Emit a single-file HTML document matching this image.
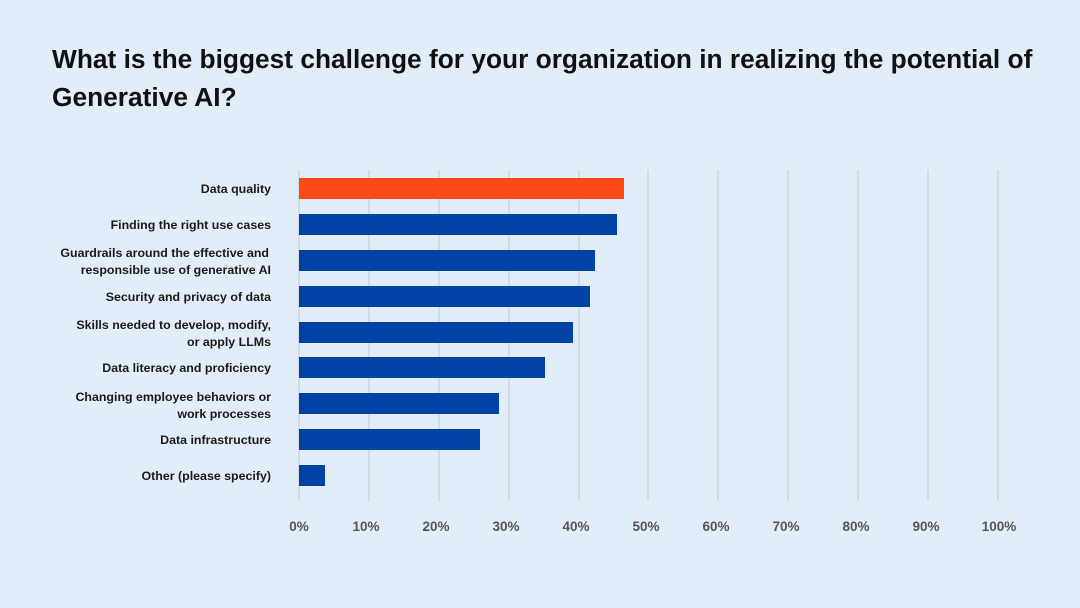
<!DOCTYPE html>
<html><head><meta charset="utf-8"><style>
body{margin:0;background:#e1edf8;}
svg{display:block;font-family:"Liberation Sans",sans-serif;}
</style></head><body>
<svg width="1080" height="608" viewBox="0 0 1080 608">
<rect width="1080" height="608" fill="#e1edf8"/>
<text x="52" y="68" font-size="26.3" font-weight="bold" fill="#111">What is the biggest challenge for your organization in realizing the potential of</text>
<text x="52" y="106" font-size="26.3" font-weight="bold" fill="#111">Generative AI?</text>
<g stroke="#c9d0d8" stroke-width="1.2">
<line x1="299" y1="170" x2="299" y2="501"/><line x1="369" y1="170" x2="369" y2="501"/><line x1="439" y1="170" x2="439" y2="501"/><line x1="509" y1="170" x2="509" y2="501"/><line x1="579" y1="170" x2="579" y2="501"/><line x1="648" y1="170" x2="648" y2="501"/><line x1="718" y1="170" x2="718" y2="501"/><line x1="788" y1="170" x2="788" y2="501"/><line x1="858" y1="170" x2="858" y2="501"/><line x1="928" y1="170" x2="928" y2="501"/><line x1="998" y1="170" x2="998" y2="501"/>
</g>
<rect x="299" y="178" width="325" height="21" fill="#ff4a17"/>
<g fill="#0042a3">
<rect x="299" y="214" width="318" height="21"/>
<rect x="299" y="250" width="296" height="21"/>
<rect x="299" y="286" width="291" height="21"/>
<rect x="299" y="322" width="274" height="21"/>
<rect x="299" y="357" width="246" height="21"/>
<rect x="299" y="393" width="200" height="21"/>
<rect x="299" y="429" width="181" height="21"/>
<rect x="299" y="465" width="26" height="21"/>
</g>
<g font-size="12.4" font-weight="bold" fill="#1a1a1a" text-anchor="end">
<text x="271" y="193">Data quality</text>
<text x="271" y="229">Finding the right use cases</text>
<text x="269" y="257">Guardrails around the effective and</text>
<text x="271" y="274">responsible use of generative AI</text>
<text x="271" y="301">Security and privacy of data</text>
<text x="271" y="329">Skills needed to develop, modify,</text>
<text x="271" y="346">or apply LLMs</text>
<text x="271" y="372">Data literacy and proficiency</text>
<text x="271" y="401">Changing employee behaviors or</text>
<text x="271" y="418">work processes</text>
<text x="271" y="444">Data infrastructure</text>
<text x="271" y="480">Other (please specify)</text>
</g>
<g font-size="13.5" font-weight="bold" fill="#555" text-anchor="middle">
<text x="299" y="531">0%</text><text x="366" y="531">10%</text><text x="436" y="531">20%</text><text x="506" y="531">30%</text><text x="576" y="531">40%</text><text x="646" y="531">50%</text><text x="716" y="531">60%</text><text x="786" y="531">70%</text><text x="856" y="531">80%</text><text x="926" y="531">90%</text><text x="999" y="531">100%</text>
</g>
</svg>
</body></html>
